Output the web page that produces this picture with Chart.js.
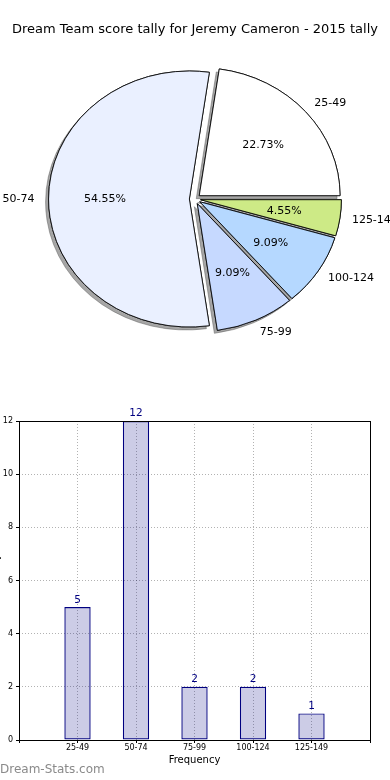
<!DOCTYPE html>
<html>
<head>
<meta charset="utf-8">
<script src="https://cdn.jsdelivr.net/npm/chart.js@4"></script>
<style>
  body { margin: 0; width: 390px; height: 780px; overflow: hidden; background: #fff; position: relative; font-family: 'DejaVu Sans', sans-serif; }
  #pieChart { position: absolute; left: 0; top: 0; }
  #barChart { position: absolute; left: -10px; top: 390px; }
  #mark { position: absolute; left: 0; top: 762px; font-size: 12px; color: #8a8a8a; }
</style>
</head>
<body>
<canvas id="pieChart" width="390" height="380"></canvas>
<canvas id="barChart" width="400" height="390"></canvas>
<div id="mark">Dream-Stats.com</div>
<script>
// score ranges and how many games fell in each
const categories = ['25-49', '50-74', '75-99', '100-124', '125-149'];
const counts = [5, 12, 2, 2, 1];
const sliceColors = ['#ffffff', '#eaf0ff', '#c6d9ff', '#b5d8ff', '#cdea86'];

Chart.defaults.font.family = "'DejaVu Sans', sans-serif";
Chart.defaults.color = '#000';

const total = counts.reduce((a, b) => a + b, 0);
const SX = 1.1;       // pie is a bit wider than tall
const EXPLODE = 0.04; // every wedge pulled out a little

// matplotlib goes anticlockwise from 3 o'clock, chart.js clockwise -> reverse
const pieLabels = categories.slice().reverse();
const pieValues = counts.slice().reverse();
const pieColors = sliceColors.slice().reverse();

const pieDraw = {
    id: 'pieDraw',
    beforeDatasetsDraw(chart) {
        const ctx = chart.ctx;
        const arcs = chart.getDatasetMeta(0).data;
        const cx = arcs[0].x, cy = arcs[0].y;
        for (let pass = 0; pass < 2; pass++) {
            arcs.forEach(arc => {
                const mid = (arc.startAngle + arc.endAngle) / 2;
                ctx.save();
                ctx.translate(cx, cy);
                ctx.scale(SX, 1);
                ctx.translate(-cx, -cy);
                ctx.translate(Math.cos(mid) * EXPLODE * arc.outerRadius, Math.sin(mid) * EXPLODE * arc.outerRadius);
                if (pass === 0) {
                    ctx.shadowColor = 'rgba(77,77,77,0.5)';
                    ctx.shadowOffsetX = -3;
                    ctx.shadowOffsetY = 3;
                    ctx.shadowBlur = 0;
                }
                arc.draw(ctx);
                ctx.restore();
            });
        }
        return false;
    },
    afterDraw(chart) {
        const ctx = chart.ctx;
        const arcs = chart.getDatasetMeta(0).data;
        ctx.save();
        ctx.font = "11px 'DejaVu Sans'";
        ctx.fillStyle = '#000';
        ctx.textBaseline = 'middle';
        arcs.forEach((arc, i) => {
            const mid = (arc.startAngle + arc.endAngle) / 2;
            const r = arc.outerRadius;
            const dx = Math.cos(mid), dy = Math.sin(mid);
            const ox = arc.x + SX * EXPLODE * r * dx;
            const oy = arc.y + EXPLODE * r * dy;
            ctx.textAlign = dx > 0 ? 'left' : 'right';
            ctx.fillText(pieLabels[i], ox + SX * 1.1 * r * dx - (dx > 0 ? 2 : 0), oy + 1.1 * r * dy);
            ctx.textAlign = 'center';
            const pct = (pieValues[i] / total * 100).toFixed(2) + '%';
            ctx.fillText(pct, ox + SX * 0.6 * r * dx, oy + 0.6 * r * dy);
        });
        ctx.restore();
    }
};

new Chart(document.getElementById('pieChart'), {
    type: 'pie',
    data: {
        labels: pieLabels,
        datasets: [{
            data: pieValues,
            backgroundColor: pieColors,
            borderColor: '#000',
            borderWidth: 0.8,
            radius: 128
        }]
    },
    options: {
        responsive: false,
        animation: false,
        events: [],
        rotation: 90,
        layout: { padding: { bottom: 19.6 } },
        plugins: {
            legend: { display: false },
            tooltip: { enabled: false },
            title: {
                display: true,
                text: 'Dream Team score tally for Jeremy Cameron - 2015 tally',
                font: { size: 13, weight: 'normal' },
                color: '#000',
                padding: { top: 22, bottom: 0 }
            }
        }
    },
    plugins: [pieDraw]
});

// bar chart: values over the bars and a closed frame
const barExtras = {
    id: 'barExtras',
    afterDatasetsDraw(chart) {
        const ctx = chart.ctx;
        const a = chart.chartArea;
        ctx.save();
        ctx.strokeStyle = '#000';
        ctx.lineWidth = 1;
        ctx.strokeRect(a.left + 0.5, a.top + 0.5, a.right - a.left, a.bottom - a.top);
        ctx.font = "10.5px 'DejaVu Sans'";
        ctx.fillStyle = '#000080';
        ctx.textAlign = 'center';
        ctx.textBaseline = 'bottom';
        chart.getDatasetMeta(0).data.forEach((bar, i) => {
            ctx.fillText(counts[i], bar.x, bar.y - 2);
        });
        ctx.restore();
    }
};

const barPoints = categories.map((c, i) => ({ x: i + 1, y: counts[i] }));

new Chart(document.getElementById('barChart'), {
    type: 'bar',
    data: {
        datasets: [{
            data: barPoints,
            backgroundColor: 'rgba(0,0,128,0.2)',
            borderColor: '#000080',
            borderWidth: 1.2,
            borderSkipped: false,
            barPercentage: 0.45,
            categoryPercentage: 1
        }]
    },
    options: {
        responsive: false,
        animation: false,
        events: [],
        layout: { padding: { top: 31, right: 20, bottom: 0, left: 0 } },
        plugins: { legend: { display: false }, tooltip: { enabled: false } },
        scales: {
            x: {
                type: 'linear',
                min: 0,
                max: categories.length + 1,
                offset: false,
                afterFit: s => { s.height = 40; },
                ticks: {
                    stepSize: 1,
                    padding: 0,
                    autoSkip: false,
                    maxRotation: 0,
                    font: { size: 8 },
                    color: '#000',
                    callback: v => categories[v - 1] || ''
                },
                grid: { offset: false, color: 'rgba(0,0,0,0.3)', tickColor: '#000', tickLength: 3, tickBorderDash: [] },
                border: { display: false, dash: [1, 2] },
                title: { display: true, text: 'Frequency', font: { size: 10 }, color: '#000', padding: { top: 0, bottom: 14 } }
            },
            y: {
                min: 0,
                max: 12,
                afterFit: s => { s.width = 29; },
                ticks: { stepSize: 2, padding: 3, font: { size: 8 }, color: '#000' },
                grid: { color: 'rgba(0,0,0,0.3)', tickColor: '#000', tickLength: 3, tickBorderDash: [] },
                border: { display: false, dash: [1, 2] },
                title: { display: true, text: 'Score Tally', font: { size: 10 }, color: '#000', padding: { top: 0, bottom: 0 } }
            }
        }
    },
    plugins: [barExtras]
});
</script>
</body>
</html>
